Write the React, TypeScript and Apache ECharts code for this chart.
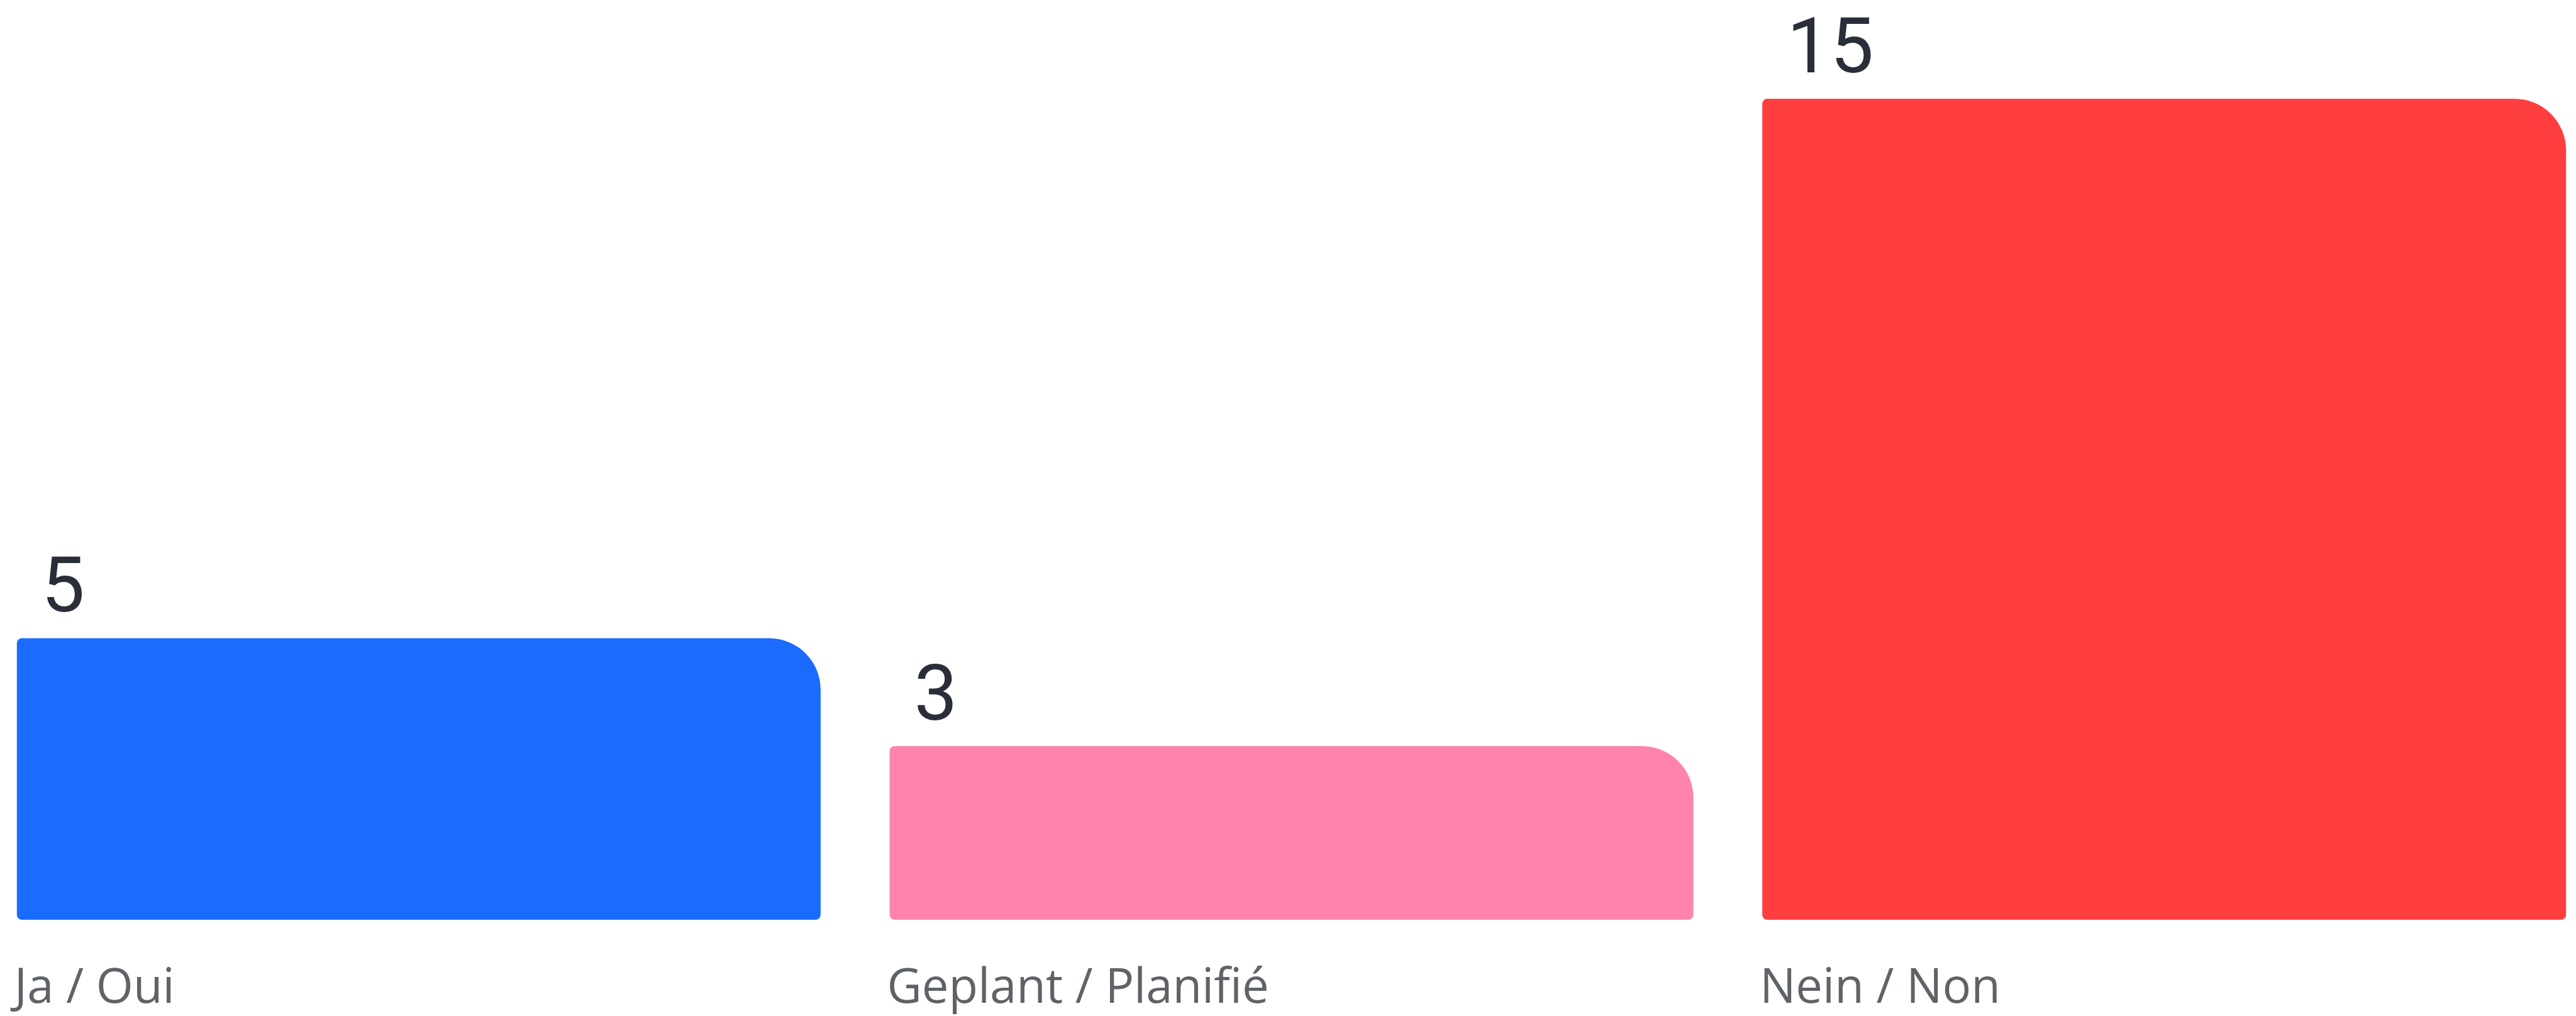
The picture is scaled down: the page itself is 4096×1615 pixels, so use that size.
import React, { useEffect, useRef } from "react";
import * as echarts from "echarts";

const categories = ["Ja / Oui", "Geplant / Planifié", "Nein / Non"];
const values = [5, 3, 15];
const barColors = ["#1b6bff", "#ff83ab", "#ff3f3f"];

const Y_MIN = -0.22;
const Y_MAX = 15;
const BAR_RATIO = 0.921;

export default function App() {
  const ref = useRef<HTMLDivElement>(null);
  useEffect(() => {
    if (!ref.current) return;
    const chart = echarts.init(ref.current, null, { renderer: "svg" });
    const data = values.map((v, i) => [i, v]);
    chart.setOption({
      animation: false,
      backgroundColor: "#ffffff",
      grid: {
        left: -28,
        right: -39,
        top: 157,
        bottom: 153,
        containLabel: false,
        outerBoundsMode: "none",
      },
      xAxis: {
        type: "category",
        data: categories,
        axisLine: { show: false },
        axisTick: { show: false },
        axisLabel: { show: false },
        splitLine: { show: false },
      },
      yAxis: {
        type: "value",
        min: Y_MIN,
        max: Y_MAX,
        show: false,
        splitLine: { show: false },
      },
      series: [
        {
          type: "custom",
          data,
          clip: false,
          renderItem: (params: any, api: any) => {
            const idx = api.value(0);
            const v = api.value(1);
            const top = api.coord([idx, v]);
            const base = api.coord([idx, Y_MIN]);
            const band = api.size([1, 0])[0];
            const bw = band * BAR_RATIO;
            const x = top[0] - bw / 2;
            return {
              type: "group",
              children: [
                {
                  type: "rect",
                  shape: { x, y: top[1], width: bw, height: base[1] - top[1], r: [8, 82, 8, 8] },
                  style: { fill: barColors[idx] },
                },
                {
                  type: "text",
                  x: x + 39,
                  y: top[1] - 84,
                  style: {
                    text: String(v),
                    fontFamily: "Roboto",
                    fontSize: 123,
                    lineHeight: 100,
                    fill: "#2a2e39",
                    align: "left",
                    verticalAlign: "middle",
                  },
                },
                {
                  type: "text",
                  x: x - 4,
                  y: base[1] + 102,
                  style: {
                    text: categories[idx],
                    fontFamily: "Open Sans",
                    fontSize: 76,
                    lineHeight: 76,
                    fill: "#5f6368",
                    align: "left",
                    verticalAlign: "middle",
                  },
                },
              ],
            };
          },
        },
      ],
    });
    return () => chart.dispose();
  }, []);
  return (
    <div
      ref={ref}
      style={{ position: "fixed", left: 0, top: 0, width: 4096, height: 1615, background: "#fff" }}
    />
  );
}
